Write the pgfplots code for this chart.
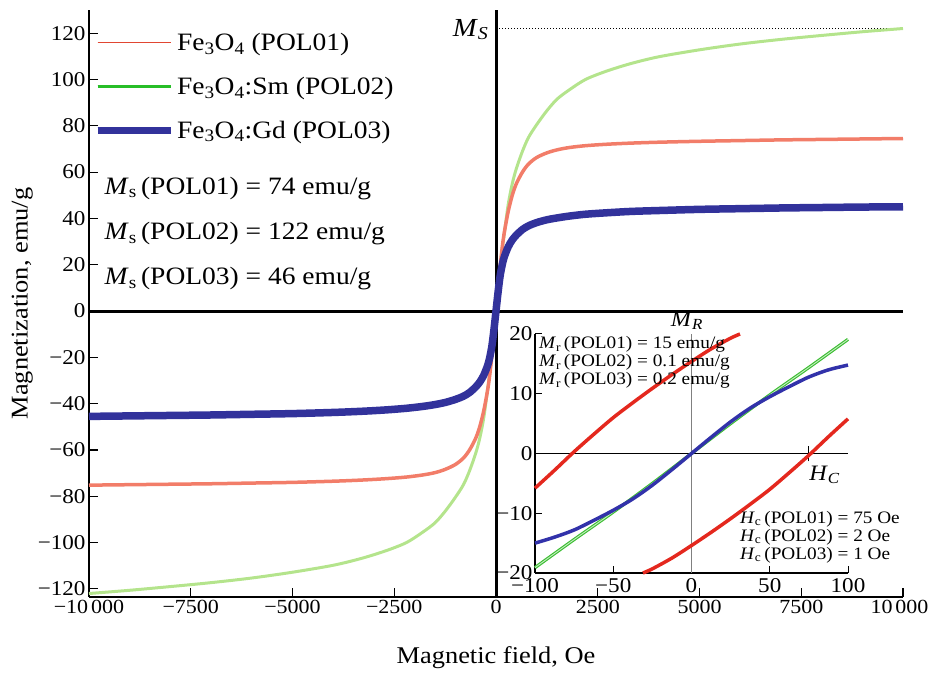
\documentclass[border=0pt]{standalone}
\usepackage{fontspec}
\setmainfont{Liberation Serif}[FakeStretch=1.1]
\usepackage{pgfplots}
\pgfplotsset{compat=1.18}
\definecolor{redA}{RGB}{242,125,105}
\definecolor{redL}{RGB}{225,70,50}
\definecolor{redI}{RGB}{228,40,30}
\definecolor{grnA}{RGB}{180,228,140}
\definecolor{grnL}{RGB}{40,190,40}
\definecolor{grnI}{RGB}{60,190,50}
\definecolor{bluA}{RGB}{50,50,155}
\definecolor{bluI}{RGB}{50,50,170}
\newcommand{\fs}[1]{\fontsize{#1}{#1}\selectfont}
\newcommand{\tk}{\hspace{3pt}}
\begin{document}
\begin{tikzpicture}
\begin{axis}[
  at={(89pt,80pt)}, anchor=south west,
  scale only axis, width=814pt, height=587pt,
  xmin=-10000, xmax=10000, ymin=-123.5, ymax=130,
  scaled x ticks=false, scaled y ticks=false,
  axis x line*=bottom, axis y line*=left,
  axis line style={line width=1.3pt},
  tick align=inside, major tick length=9pt,
  tick style={black, line width=1.1pt},
  xtick={-10000,-7500,-5000,-2500,0,2500,5000,7500,10000},
  xticklabels={{−10\tk000},−7500,−5000,−2500,0,2500,5000,7500,{\kern-7pt 10\tk000}},
  ytick={-120,-100,-80,-60,-40,-20,0,20,40,60,80,100,120},
  yticklabels={−120,−100,−80,−60,−40,−20,0,20,40,60,80,100,120},
  yticklabel style={font=\fs{21}},
  xticklabel style={font=\fs{20}},
  xlabel={Magnetic field, Oe}, ylabel={Magnetization, emu/g},
  label style={font=\fs{24}},
  xlabel style={yshift=-26pt}, ylabel style={yshift=-2pt},
  clip=false,
  legend style={at={(0.006,0.966)}, anchor=north west, draw=none, fill=none,
    font=\fs{25}, row sep=19pt, inner sep=0pt, nodes={inner sep=3pt}},
  legend cell align=left,
  legend image code/.code={\draw[#1] (0pt,0pt) -- (68pt,0pt); \path (0pt,0pt) -- (73pt,0pt);},
]
\addlegendimage{redL, line width=1.3pt}
\addlegendentry{Fe\textsubscript{3}O\textsubscript{4} (POL01)}
\addlegendimage{grnL, line width=3.5pt}
\addlegendentry{Fe\textsubscript{3}O\textsubscript{4}:Sm (POL02)}
\addlegendimage{bluA, line width=7pt}
\addlegendentry{Fe\textsubscript{3}O\textsubscript{4}:Gd (POL03)}
% zero lines
\draw[line width=3pt] (axis cs:-10000,0) -- (axis cs:10000,0);
\draw[line width=3pt] (axis cs:0,-123.5) -- (axis cs:0,130);
\draw[dotted, line width=1pt] (axis cs:0,122) -- (axis cs:10000,122);
% green
\addplot[grnA, line width=3pt, smooth, forget plot] coordinates {
(-10000,-122) (-9000,-120.6) (-8000,-119) (-7000,-117.3) (-6000,-115.3) (-5000,-112.8)
(-4000,-109.8) (-3300,-106.8) (-2700,-103.5) (-2200,-100) (-1800,-95.5) (-1500,-91.5)
(-1250,-86.5) (-1000,-80.5) (-800,-75) (-650,-69) (-500,-61.5) (-400,-55) (-300,-46)
(-200,-33) (-150,-26.5) (-100,-18.5) (-50,-9.5) (0,0)
(50,9.5) (100,18.5) (150,26.5) (200,33) (300,46) (400,55) (500,61.5) (650,69) (800,75)
(1000,80.5) (1250,86.5) (1500,91.5) (1800,95.5) (2200,100) (2700,103.5) (3300,106.8)
(4000,109.8) (5000,112.8) (6000,115.3) (7000,117.3) (8000,119) (9000,120.6) (10000,122)};
% red
\addplot[redA, line width=3.5pt, smooth, forget plot] coordinates {
(-10000,-75.2) (-9000,-75) (-8000,-74.8) (-7000,-74.6) (-6000,-74.3) (-5000,-74)
(-4000,-73.5) (-3300,-73) (-2700,-72.4) (-2200,-71.7) (-1800,-70.8) (-1500,-69.8)
(-1250,-68.4) (-1000,-66.3) (-800,-63.5) (-650,-60) (-500,-55) (-400,-50) (-300,-43)
(-200,-33.5) (-150,-27) (-100,-19) (-50,-10) (0,0)
(50,10) (100,19) (150,27) (200,33.5) (300,43) (400,50) (500,55) (650,60) (800,63.5)
(1000,66.3) (1250,68.3) (1500,69.6) (1800,70.6) (2200,71.4) (2700,72) (3300,72.5)
(4000,72.9) (5000,73.3) (6000,73.6) (7000,73.9) (8000,74.1) (9000,74.3) (10000,74.5)};
% blue
\addplot[bluA, line width=7.5pt, smooth, forget plot] coordinates {
(-10000,-45.5) (-9000,-45.3) (-8000,-45.1) (-7000,-44.9) (-6000,-44.6) (-5000,-44.3)
(-4000,-43.8) (-3300,-43.3) (-2700,-42.7) (-2200,-42) (-1800,-41.2) (-1500,-40.4)
(-1250,-39.5) (-1000,-38.2) (-800,-36.8) (-650,-35.2) (-500,-32.8) (-400,-30.7)
(-300,-27.7) (-200,-23.2) (-150,-19.7) (-100,-15) (-50,-8) (0,0)
(50,8) (100,15) (150,19.7) (200,23.2) (300,27.7) (400,30.7) (500,32.8) (650,35.2)
(800,36.8) (1000,38.2) (1250,39.4) (1500,40.2) (1800,41) (2200,41.8) (2700,42.4)
(3300,43) (4000,43.4) (5000,43.9) (6000,44.2) (7000,44.5) (8000,44.7) (9000,44.9) (10000,45)};
\node[anchor=east, font=\fs{26}] at (axis cs:-100,121.5) {\textit{M}\textsubscript{\textit{S}}};
\node[anchor=west, font=\fs{25}] at (axis cs:-9700,53) {\textit{M}\textsubscript{s}\,(POL01) = 74 emu/g};
\node[anchor=west, font=\fs{25}] at (axis cs:-9700,33.5) {\textit{M}\textsubscript{s}\,(POL02) = 122 emu/g};
\node[anchor=west, font=\fs{25}] at (axis cs:-9700,14) {\textit{M}\textsubscript{s}\,(POL03) = 46 emu/g};
\end{axis}
% inset
\begin{axis}[
  at={(535pt,104pt)}, anchor=south west,
  scale only axis, width=313pt, height=239pt,
  xmin=-100, xmax=100, ymin=-20, ymax=20,
  axis x line*=bottom, axis y line*=left,
  axis line style={line width=1.1pt},
  tick align=inside, major tick length=7pt,
  tick style={black, line width=1pt},
  xtick={-100,-50,0,50,100}, xticklabels={−100,−50,0,50,100},
  ytick={-20,-10,0,10,20}, yticklabels={−20,−10,0,10,20},
  tick label style={font=\fs{21}},
  xticklabel style={yshift=-2pt},
  yticklabel style={xshift=1pt},
  clip=false,
]
\draw[line width=1pt] (axis cs:-100,0) -- (axis cs:100,0);
\draw[gray, line width=0.8pt] (axis cs:0,-20) -- (axis cs:0,20);
\draw[line width=1pt] (axis cs:75,-1.3) -- (axis cs:75,1.3);
\addplot[grnI, line width=3.2pt, smooth] coordinates {
(-100,-19.1) (-75,-14.4) (-50,-9.8) (-25,-5) (0,0) (25,5) (50,9.8) (75,14.4) (100,19.1)};
\addplot[white!70!grnI, line width=0.9pt, smooth] coordinates {
(-100,-19.1) (-75,-14.4) (-50,-9.8) (-25,-5) (0,0) (25,5) (50,9.8) (75,14.4) (100,19.1)};
\addplot[bluI, line width=3.5pt, smooth] coordinates {
(-100,-15) (-87.5,-14) (-75,-12.8) (-62.5,-11.2) (-50,-9.5) (-37.5,-7.6) (-25,-5.3)
(-12.5,-2.7) (0,0) (12.5,2.7) (25,5.3) (37.5,7.6) (50,9.5) (62.5,11.2) (75,12.8)
(87.5,14) (100,14.8)};
\addplot[redI, line width=3.5pt, smooth] coordinates {
(-100,-5.8) (-87.5,-2.8) (-75,0.3) (-62.5,3.2) (-50,6) (-37.5,8.5) (-25,10.9)
(-12.5,13.2) (0,15.4) (12.5,17.5) (25,19.3) (31,20)};
\addplot[redI, line width=3.5pt, smooth] coordinates {
(-31,-20) (-25,-19.3) (-12.5,-17.5) (0,-15.4) (12.5,-13.2) (25,-10.9) (37.5,-8.5)
(50,-6) (62.5,-3.2) (75,-0.3) (87.5,2.8) (100,5.8)};
\node[anchor=south, font=\fs{22}] at (axis cs:-3,20.2) {\textit{M}\textsubscript{\textit{R}}};
\node[anchor=north west, font=\fs{22}] at (axis cs:73,-1.5) {\textit{H}\textsubscript{\textit{C}}};
\node[anchor=north west, align=left, font=\fontsize{17.5}{18}\selectfont, inner sep=0pt] at (axis cs:-97.5,19.6)
 {\textit{M}\textsubscript{r}\,(POL01) = 15 emu/g\\ \textit{M}\textsubscript{r}\,(POL02) = 0.1 emu/g\\ \textit{M}\textsubscript{r}\,(POL03) = 0.2 emu/g};
\node[anchor=north west, align=left, font=\fontsize{17.5}{18}\selectfont, inner sep=0pt] at (axis cs:31,-9.6)
 {\textit{H}\textsubscript{c}\,(POL01) = 75 Oe\\ \textit{H}\textsubscript{c}\,(POL02) = 2 Oe\\ \textit{H}\textsubscript{c}\,(POL03) = 1 Oe};
\end{axis}
\pgfresetboundingbox
\path[use as bounding box] (0pt,0pt) rectangle (930pt,677pt);
\end{tikzpicture}
\end{document}
